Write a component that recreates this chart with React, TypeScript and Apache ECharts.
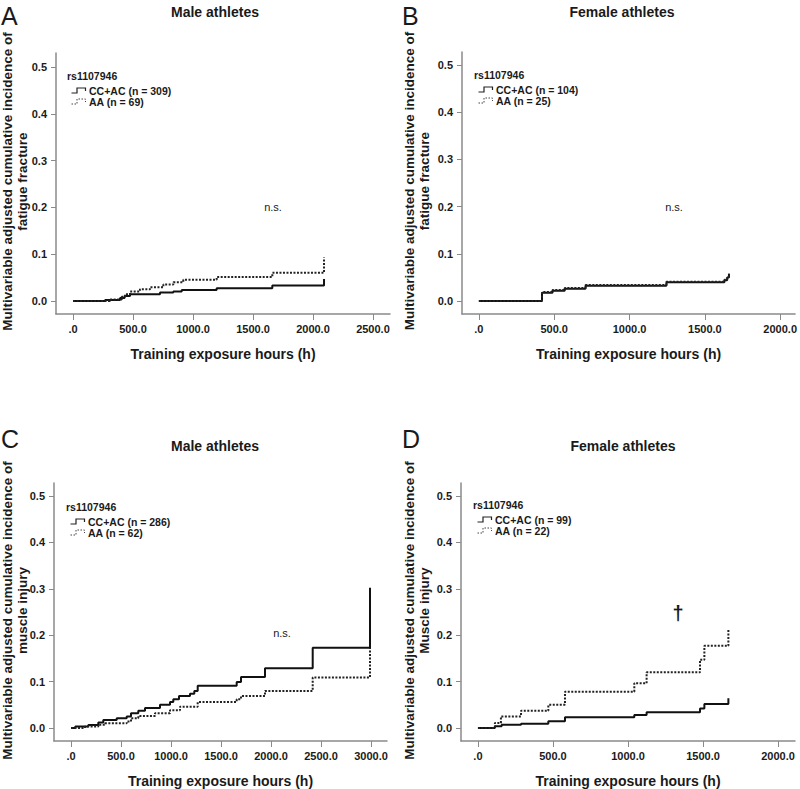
import React, { useEffect, useRef } from "react";
import * as echarts from "echarts";

// ---------- data ----------
const yTickValues = [0, 0.1, 0.2, 0.3, 0.4, 0.5];
const xTicksA = [0, 500, 1000, 1500, 2000, 2500];
const xTicksB = [0, 500, 1000, 1500, 2000];
const xTicksC = [0, 500, 1000, 1500, 2000, 2500, 3000];
const xTicksD = [0, 500, 1000, 1500, 2000];

const panelTitles = ["Male athletes", "Female athletes", "Male athletes", "Female athletes"];
const panelLetters = ["A", "B", "C", "D"];
const yTitles = [
  "Multivariable adjusted cumulative incidence of\nfatigue fracture",
  "Multivariable adjusted cumulative incidence of\nfatigue fracture",
  "Multivariable adjusted cumulative incidence of\nmuscle injury",
  "Multivariable adjusted cumulative incidence of\nMuscle injury",
];
const legendHeader = "rs1107946";
const legendSolid = ["CC+AC (n = 309)", "CC+AC (n = 104)", "CC+AC (n = 286)", "CC+AC (n = 99)"];
const legendDotted = ["AA (n = 69)", "AA (n = 25)", "AA (n = 62)", "AA (n = 22)"];
const significance = ["n.s.", "n.s.", "n.s.", "†"];
const xTitle = "Training exposure hours (h)";

// Panel A (male, fatigue fracture)
const aSolidT = [0, 267, 392, 430, 475, 725, 836, 906, 1197, 1661, 2092];
const aSolidV = [0, 0.002, 0.006, 0.0106, 0.014, 0.018, 0.02, 0.0234, 0.027, 0.033, 0.047];
const aDotT = [0, 308, 406, 433, 475, 558, 642, 753, 836, 919, 1197, 1661, 2092];
const aDotV = [0, 0.003, 0.009, 0.014, 0.02, 0.025, 0.029, 0.035, 0.04, 0.045, 0.051, 0.06, 0.093];

// Panel B (female, fatigue fracture)
const bSolidT = [0, 419, 489, 570, 708, 1245, 1630, 1648, 1660];
const bSolidV = [0, 0.0177, 0.022, 0.026, 0.0325, 0.0397, 0.044, 0.05, 0.058];
const bDotT = [0, 419, 489, 570, 708, 1245, 1630, 1648, 1660];
const bDotV = [0, 0.019, 0.0235, 0.0275, 0.034, 0.041, 0.045, 0.051, 0.058];

// Panel C (male, muscle injury)
const cSolidT = [0, 43, 173, 273, 323, 457, 557, 600, 673, 740, 890, 990, 1023, 1080, 1190, 1233, 1267, 1657, 1700, 1940, 2417, 2990];
const cSolidV = [0, 0.003, 0.0064, 0.012, 0.017, 0.021, 0.025, 0.032, 0.037, 0.043, 0.05, 0.056, 0.062, 0.069, 0.074, 0.08, 0.091, 0.099, 0.11, 0.129, 0.173, 0.302];
const cDotT = [0, 140, 273, 340, 557, 600, 673, 840, 990, 1090, 1267, 1657, 1700, 1940, 2417, 2990];
const cDotV = [0, 0.003, 0.007, 0.01, 0.014, 0.021, 0.026, 0.032, 0.038, 0.046, 0.056, 0.062, 0.069, 0.08, 0.109, 0.173];

// Panel D (female, muscle injury)
const dSolidT = [0, 113, 158, 287, 469, 580, 1042, 1124, 1480, 1509, 1669];
const dSolidV = [0, 0.004, 0.007, 0.009, 0.0143, 0.023, 0.028, 0.034, 0.042, 0.052, 0.064];
const dDotT = [0, 113, 153, 287, 469, 580, 1042, 1124, 1480, 1509, 1669];
const dDotV = [0, 0.011, 0.025, 0.037, 0.05, 0.078, 0.0966, 0.12, 0.147, 0.177, 0.214];

// ---------- layout ----------
const FONT = "'Liberation Sans', Arial, Helvetica, sans-serif";
const grids = [
  { left: 56, top: 53, width: 334, height: 261, xMin: -142, xMax: 2642, yMin: -0.028, yMax: 0.53, ticks: xTicksA },
  { left: 462, top: 52, width: 336, height: 262, xMin: -112, xMax: 2099, yMin: -0.0275, yMax: 0.5275, ticks: xTicksB },
  { left: 54, top: 483, width: 333, height: 259, xMin: -170, xMax: 3160, yMin: -0.028, yMax: 0.528, ticks: xTicksC },
  { left: 461, top: 483, width: 334, height: 259, xMin: -113, xMax: 2113, yMin: -0.028, yMax: 0.528, ticks: xTicksD },
];
// positions of decorations for each panel
const deco = [
  { titleX: 215, titleY: 12, letterX: 1, letterY: 3, yTitleX: 15, legX: 67, legY: 76, sigX: 273, sigY: 207 },
  { titleX: 622, titleY: 12, letterX: 402, letterY: 3, yTitleX: 417, legX: 474, legY: 75, sigX: 674, sigY: 207 },
  { titleX: 215, titleY: 446, letterX: 1, letterY: 426, yTitleX: 15, legX: 66, legY: 507, sigX: 282, sigY: 633 },
  { titleX: 623, titleY: 446, letterX: 402, letterY: 426, yTitleX: 417, legX: 473, legY: 505, sigX: 678, sigY: 613 },
];

const zip = (t: number[], v: number[]) => t.map((x, i) => [x, v[i]]);
const seriesData = [
  [zip(aSolidT, aSolidV), zip(aDotT, aDotV)],
  [zip(bSolidT, bSolidV), zip(bDotT, bDotV)],
  [zip(cSolidT, cSolidV), zip(cDotT, cDotV)],
  [zip(dSolidT, dSolidV), zip(dDotT, dDotV)],
];

const AXIS_COLOR = "#8a8a8a";
const TEXT_COLOR = "#1a1a1a";

function buildOption() {
  const grid = grids.map((g) => ({ left: g.left, top: g.top, width: g.width, height: g.height, containLabel: false }));
  const xAxis = grids.map((g, i) => ({
    type: "value",
    gridIndex: i,
    min: g.xMin,
    max: g.xMax,
    name: xTitle,
    nameLocation: "middle",
    nameGap: 33,
    nameTextStyle: { fontFamily: FONT, fontWeight: "bold", fontSize: 14, color: TEXT_COLOR },
    axisLine: { show: true, onZero: false, lineStyle: { color: AXIS_COLOR, width: 1.5 } },
    axisTick: { show: true, length: 6, customValues: g.ticks, lineStyle: { color: AXIS_COLOR, width: 1 } },
    axisLabel: {
      customValues: g.ticks,
      margin: 9,
      fontFamily: FONT,
      fontWeight: "bold",
      fontSize: 11,
      color: TEXT_COLOR,
      formatter: (v: number) => (v === 0 ? ".0" : v.toFixed(1)),
    },
    splitLine: { show: false },
  }));
  const yAxis = grids.map((g, i) => ({
    type: "value",
    gridIndex: i,
    min: g.yMin,
    max: g.yMax,
    axisLine: { show: true, onZero: false, lineStyle: { color: AXIS_COLOR, width: 1.5 } },
    axisTick: { show: true, length: 5, customValues: yTickValues, lineStyle: { color: AXIS_COLOR, width: 1 } },
    axisLabel: {
      customValues: yTickValues,
      margin: 9,
      fontFamily: FONT,
      fontWeight: "bold",
      fontSize: 11,
      color: TEXT_COLOR,
      formatter: (v: number) => v.toFixed(1),
    },
    splitLine: { show: false },
  }));
  const series: any[] = [];
  seriesData.forEach((pair, i) => {
    series.push({
      type: "line",
      name: legendSolid[i],
      xAxisIndex: i,
      yAxisIndex: i,
      data: pair[0],
      step: "end",
      showSymbol: false,
      symbol: "none",
      lineStyle: { color: "#111", width: 2, type: "solid" },
      z: 2,
    });
    series.push({
      type: "line",
      name: legendDotted[i],
      xAxisIndex: i,
      yAxisIndex: i,
      data: pair[1],
      step: "end",
      showSymbol: false,
      symbol: "none",
      lineStyle: { color: "#222", width: 2, type: [2, 1.5] },
      z: 3,
    });
  });

  const graphic: any[] = [];
  deco.forEach((d, i) => {
    graphic.push({
      type: "text",
      x: d.titleX,
      y: d.titleY,
      style: { text: panelTitles[i], font: `bold 14px ${FONT}`, fill: TEXT_COLOR, align: "center", verticalAlign: "middle" },
    });
    graphic.push({
      type: "text",
      x: d.letterX,
      y: d.letterY,
      style: { text: panelLetters[i], font: `25px ${FONT}`, fill: TEXT_COLOR, align: "left", verticalAlign: "top" },
    });
    const g = grids[i];
    graphic.push({
      type: "text",
      x: d.yTitleX,
      y: g.top + g.height / 2 - 2,
      rotation: Math.PI / 2,
      style: {
        text: yTitles[i],
        font: `bold 13.5px ${FONT}`,
        lineHeight: 15,
        fill: TEXT_COLOR,
        align: "center",
        verticalAlign: "middle",
      },
    });
    // legend
    graphic.push({
      type: "text",
      x: d.legX,
      y: d.legY,
      style: { text: legendHeader, font: `bold 10.5px ${FONT}`, fill: TEXT_COLOR, align: "left", verticalAlign: "middle" },
    });
    const lx = d.legX;
    const ly = d.legY;
    graphic.push({
      type: "polyline",
      shape: { points: [[lx + 4.5, ly + 17], [lx + 10, ly + 17], [lx + 10, ly + 12], [lx + 18.5, ly + 12], [lx + 18.5, ly + 15]] },
      style: { stroke: "#222", lineWidth: 1.2, fill: null },
    });
    graphic.push({
      type: "text",
      x: lx + 22,
      y: ly + 15,
      style: { text: legendSolid[i], font: `bold 10.5px ${FONT}`, fill: TEXT_COLOR, align: "left", verticalAlign: "middle" },
    });
    graphic.push({
      type: "polyline",
      shape: { points: [[lx + 4.5, ly + 28], [lx + 10, ly + 28], [lx + 10, ly + 23], [lx + 18.5, ly + 23], [lx + 18.5, ly + 26]] },
      style: { stroke: "#444", lineWidth: 1, lineDash: [1.5, 1.5], fill: null },
    });
    graphic.push({
      type: "text",
      x: lx + 22,
      y: ly + 26,
      style: { text: legendDotted[i], font: `bold 10.5px ${FONT}`, fill: TEXT_COLOR, align: "left", verticalAlign: "middle" },
    });
    graphic.push({
      type: "text",
      x: d.sigX,
      y: d.sigY,
      style: {
        text: significance[i],
        font: i === 3 ? `bold 20px ${FONT}` : `11px ${FONT}`,
        fill: TEXT_COLOR,
        align: "center",
        verticalAlign: "middle",
      },
    });
  });

  return {
    animation: false,
    backgroundColor: "#ffffff",
    grid,
    xAxis,
    yAxis,
    series,
    graphic,
  };
}

export default function App() {
  const ref = useRef<HTMLDivElement>(null);
  useEffect(() => {
    if (!ref.current) return;
    const chart = echarts.init(ref.current, undefined, { renderer: "svg" });
    chart.setOption(buildOption() as any);
    return () => chart.dispose();
  }, []);
  return (
    <div
      ref={ref}
      style={{ position: "absolute", left: 0, top: 0, width: 800, height: 789, background: "#fff" }}
    />
  );
}
